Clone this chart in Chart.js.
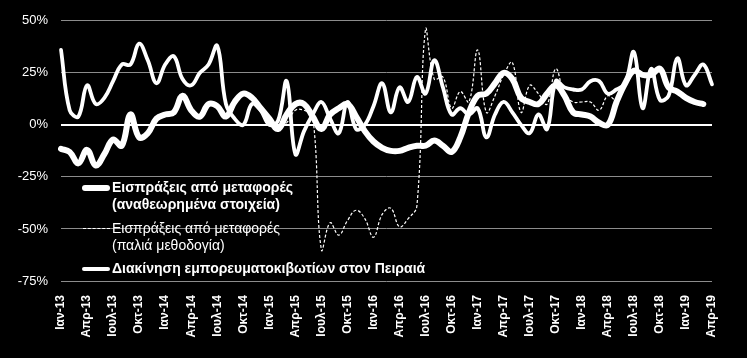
<!DOCTYPE html>
<html>
<head>
<meta charset="utf-8">
<script src="https://cdn.jsdelivr.net/npm/chart.js@4.4.1/dist/chart.umd.min.js"></script>
<style>
  html, body { margin: 0; padding: 0; background: #000; }
  #wrap { position: relative; width: 747px; height: 358px; background: #000; }
  .lg { position: absolute; left: 112px; color: #fff; font-family: "Liberation Sans", Arial, sans-serif; font-size: 14px; line-height: 17px; white-space: nowrap; }
  .b { font-weight: bold; }
  .sw { position: absolute; left: 82px; width: 28px; background: #fff; }
</style>
</head>
<body>
<div id="wrap">
  <canvas id="graph1" width="747" height="358"></canvas>
  <div class="sw" style="top:185px;height:6px;border-radius:3px;"></div>
  <div class="lg b" style="top:179px;">Εισπράξεις από μεταφορές<br>(αναθεωρημένα στοιχεία)</div>
  <div class="sw" style="top:228px;height:0;background:none;border-top:1px dashed #fff;left:83px;width:27px;"></div>
  <div class="lg" style="top:220px;">Εισπράξεις από μεταφορές<br>(παλιά μεθοδογία)</div>
  <div class="sw" style="top:267px;height:4px;border-radius:2px;"></div>
  <div class="lg b" style="top:260px;">Διακίνηση εμπορευματοκιβωτίων στον Πειραιά</div>
</div>
<script>
// month names and years for the category axis
const monthNames = ['Ιαν', 'Φεβ', 'Μαρ', 'Απρ', 'Μαϊ', 'Ιουν', 'Ιουλ', 'Αυγ', 'Σεπ', 'Οκτ', 'Νοε', 'Δεκ'];
const years = ['13', '14', '15', '16', '17', '18', '19'];
const lastMonth = 'Απρ-19';

const labels = [];
for (const y of years) {
    for (const m of monthNames) {
        labels.push(m + '-' + y);
        if (m + '-' + y === lastMonth) break;
    }
}

const yTicks = [-75, -50, -25, 0, 25, 50];

// Εισπράξεις από μεταφορές (αναθεωρημένα στοιχεία), % yoy
const receiptsRevised = [
    -11.5, -13, -18.5, -12, -19.5, -14, -7, -10, 5, -6,
    -4, 3, 5, 6, 14, 7, 4, 10, 9, 4,
    11, 15, 13, 8, 3, -2, 5, 10, 10, 4,
    -2, 5, 8, 10, 4, -3, -8, -11, -12.5, -12.5,
    -11, -10, -10, -7.5, -10, -13, -6, 6, 14, 15,
    20, 25, 22, 13, 11, 10, 15, 19, 14, 6,
    5, 4, 1, 0, 11, 20, 26, 24, 24, 27,
    18, 16, 13, 11, 10, null
];

// Εισπράξεις από μεταφορές (παλιά μεθοδογία)
const receiptsOld = [
    null, null, null, null, null, null, null, null, null, null,
    null, null, null, null, null, null, null, null, null, null,
    null, null, null, null, null, -2, 1, 7, 7, 4,
    -60, -47, -53, -46, -41, -45, -54, -43, -40, -49,
    -45, -39, 46, 22, 23, 8, 16, 11, 36, 6,
    14, 24, 30, 6, 19, 15, 10, 27, 15, 11,
    11, 11, 7, 14, 11, null, null, null, null, null,
    null, null, null, null, null, null
];

// Διακίνηση εμπορευματοκιβωτίων στον Πειραιά
const containers = [
    36, 7, 4, 19, 10, 13, 21, 29, 29, 39,
    31, 20, 29, 33, 22, 19, 25, 29, 38, 10,
    3, 0, 10, 7, 0, 2, 21, -14, -3, 5,
    11, 3, -4, 11, -2, 0, 9, 20, 6, 18,
    11, 23, 15, 31, 18, 5, 8, 5, 8, -6,
    5, 11, 6, 0, -4, 5, -2, 21, 18, 17,
    17, 21, 21, 15, 17, 20, 35, 8, 27, 12,
    14, 32, 19, 24, 29, 19.5
];

Chart.defaults.font.family = '"Liberation Sans", Arial, sans-serif';
Chart.defaults.color = '#fff';

const data = {
    labels: labels,
    datasets: [{
        label: 'Εισπράξεις από μεταφορές (αναθεωρημένα στοιχεία)',
        data: receiptsRevised,
        borderColor: '#fff',
        borderWidth: 6,
        tension: 0.4,
        borderCapStyle: 'round'
    }, {
        label: 'Εισπράξεις από μεταφορές (παλιά μεθοδογία)',
        data: receiptsOld,
        borderColor: '#fff',
        borderWidth: 1.2,
        borderDash: [3, 2],
        tension: 0.4
    }, {
        label: 'Διακίνηση εμπορευματοκιβωτίων στον Πειραιά',
        data: containers,
        borderColor: '#fff',
        borderWidth: 3.8,
        tension: 0.4,
        borderCapStyle: 'round'
    }]
};

const config = {
    type: 'line',
    data: data,
    options: {
        responsive: false,
        animation: false,
        devicePixelRatio: 1,
        layout: { padding: { top: 13, right: 35, left: 0, bottom: 0 } },
        elements: { point: { radius: 0 } },
        plugins: {
            legend: { display: false },
            tooltip: { enabled: false }
        },
        scales: {
            x: {
                grid: { display: false },
                border: { display: false },
                ticks: {
                    autoSkip: false,
                    maxRotation: 90,
                    minRotation: 90,
                    padding: 6,
                    color: '#fff',
                    font: { size: 12, weight: 'bold' },
                    callback: function (v, i) { return i % 3 === 0 ? labels[i] : null; }
                },
                afterFit: function (s) { s.height = 77; }
            },
            y: {
                min: yTicks[0],
                max: yTicks[yTicks.length - 1],
                afterBuildTicks: function (s) { s.ticks = yTicks.map(v => ({ value: v })); },
                ticks: {
                    color: '#fff',
                    padding: 13,
                    font: { size: 13 },
                    callback: function (v) { return v + '%'; }
                },
                grid: {
                    drawTicks: false,
                    color: ctx => ctx.tick && ctx.tick.value === 0 ? '#fff' : '#8c8c8c',
                    lineWidth: ctx => ctx.tick && ctx.tick.value === 0 ? 2 : 1
                },
                border: { display: false },
                afterFit: function (s) { s.width = 61; }
            }
        }
    }
};

const myChart = new Chart(document.querySelector('#graph1'), config);
</script>
</body>
</html>
